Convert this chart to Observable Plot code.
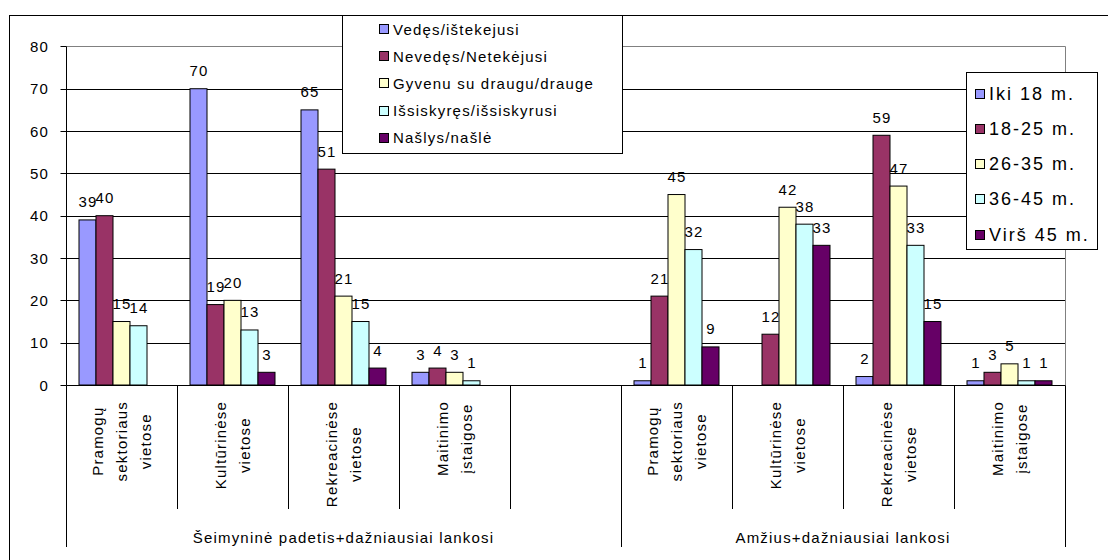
<!DOCTYPE html>
<html>
<head>
<meta charset="utf-8">
<script src="https://cdn.jsdelivr.net/npm/d3@7"></script>
<script src="https://cdn.jsdelivr.net/npm/@observablehq/plot@0.6"></script>
<style>
  body { margin: 0; background: #fff; }
  #chart { position: relative; width: 1108px; height: 560px; overflow: hidden; }
</style>
</head>
<body>
<div id="chart"></div>
<script>
// Places visited most often (category labels, one line per "\n")
const places = ["Pramogų\nsektoriaus\nvietose", "Kultūrinėse\nvietose", "Rekreacinėse\nvietose", "Maitinimo\nįstaigose"];
const groupTitles = ["Šeimyninė padetis+dažniausiai lankosi", "Amžius+dažniausiai lankosi"];

// Left block: marital status
const familySeries = ["Vedęs/ištekejusi", "Nevedęs/Netekėjusi", "Gyvenu su draugu/drauge", "Išsiskyręs/išsiskyrusi", "Našlys/našlė"];
const familyValues = [
  [39, 70, 65, 3],
  [40, 19, 51, 4],
  [15, 20, 21, 3],
  [14, 13, 15, 1],
  [null, 3, 4, null]
];

// Right block: age groups
const ageSeries = ["Iki 18 m.", "18-25 m.", "26-35 m.", "36-45 m.", "Virš 45 m."];
const ageValues = [
  [1, null, 2, 1],
  [21, 12, 59, 3],
  [45, 42, 47, 5],
  [32, 38, 33, 1],
  [9, 33, 15, 1]
];

const seriesColors = ["#9999ff", "#993366", "#ffffcc", "#ccffff", "#660066"];
const yTicks = [0, 10, 20, 30, 40, 50, 60, 70, 80];

const FONT = "'Liberation Sans', Arial, sans-serif";

// Category slots: four places, an empty slot, four places
const slots = [...places.map((_, i) => "A" + i), "gap", ...places.map((_, i) => "B" + i)];
const slotLabel = new Map(places.flatMap((p, i) => [["A" + i, p], ["B" + i, p]]));

const rows = [];
[[familyValues, "A"], [ageValues, "B"]].forEach(([values, prefix]) => {
  values.forEach((vals, s) => vals.forEach((v, c) => {
    if (v != null) rows.push({slot: prefix + c, series: s, value: v});
  }));
});

const chart = Plot.plot({
  width: 1108,
  height: 560,
  marginLeft: 63,
  marginRight: 41,
  marginTop: 46.4,
  marginBottom: 175,
  style: {fontFamily: FONT, fontSize: "15px", color: "black", background: "none", letterSpacing: "1.2px"},
  fx: {domain: slots, padding: 0, axis: null},
  x: {domain: d3.range(5), paddingInner: 0, paddingOuter: 0.75, axis: null},
  y: {domain: [0, 80], axis: null},
  color: {type: "ordinal", domain: d3.range(5), range: seriesColors},
  marks: [
    Plot.barY(rows, {fx: "slot", x: "series", y: "value", fill: "series", stroke: "black", strokeWidth: 1}),
    Plot.text(rows, {fx: "slot", x: "series", y: "value", text: d => String(d.value), dy: -13, lineAnchor: "bottom", fill: "black"})
  ]
});

document.getElementById("chart").appendChild(chart);

const svg = d3.select(chart);
const fx = chart.scale("fx");
const y = chart.scale("y");
const crisp = v => Math.round(v) + 0.5;
const left = fx.apply(slots[0]);
const right = fx.apply(slots[slots.length - 1]) + fx.bandwidth;
const yTop = y.apply(80), yBottom = y.apply(0);

// Layer beneath the bars: outer border and gridlines
const under = svg.insert("g", "g");
under.append("rect")
  .attr("x", 9.5).attr("y", 15.5).attr("width", 1200).attr("height", 600)
  .attr("fill", "white").attr("stroke", "black");
under.selectAll("line.grid").data(yTicks.slice(1, -1)).join("line")
  .attr("x1", crisp(left)).attr("x2", crisp(right))
  .attr("y1", d => crisp(y.apply(d))).attr("y2", d => crisp(y.apply(d)))
  .attr("stroke", "black");

const deco = svg.append("g");

// Plot-area border (grey) on top and right
deco.append("path")
  .attr("d", `M${crisp(left)},${crisp(yTop)}H${crisp(right)}V${crisp(yBottom)}`)
  .attr("fill", "none").attr("stroke", "#808080");

// Value and category axis lines
deco.append("path")
  .attr("d", `M${crisp(left)},${crisp(yTop)}V${crisp(yBottom)}H${crisp(right)}`)
  .attr("fill", "none").attr("stroke", "black");

// y ticks and their labels
deco.selectAll("line.ytick").data(yTicks).join("line")
  .attr("x1", crisp(left) - 6).attr("x2", crisp(left))
  .attr("y1", d => crisp(y.apply(d))).attr("y2", d => crisp(y.apply(d)))
  .attr("stroke", "black");
deco.selectAll("text.ylab").data(yTicks).join("text")
  .attr("x", left - 17)
  .attr("y", d => y.apply(d))
  .attr("text-anchor", "end")
  .attr("dominant-baseline", "central")
  .attr("fill", "black")
  .text(d => d);

// Category separators; group boundaries reach further down
const bounds = slots.map(s => fx.apply(s)).concat([right]);
const groupEdges = new Set([0, 5, slots.length]);
deco.selectAll("line.sep").data(bounds).join("line")
  .attr("x1", d => crisp(d)).attr("x2", d => crisp(d))
  .attr("y1", crisp(yBottom))
  .attr("y2", (d, i) => groupEdges.has(i) ? 547 : 509)
  .attr("stroke", "black");

// Rotated category labels, lines centred on the longest one
const catG = deco.append("g").attr("fill", "black");
slots.forEach(s => {
  if (!slotLabel.has(s)) return;
  const lines = slotLabel.get(s).split("\n");
  const cx = fx.apply(s) + fx.bandwidth / 2;
  const texts = lines.map(line => catG.append("text")
    .attr("text-anchor", "middle")
    .attr("dominant-baseline", "central")
    .text(line));
  const longest = d3.max(texts, t => t.node().getComputedTextLength());
  const cy = yBottom + 16 + longest / 2;
  texts.forEach((t, j) => {
    const lx = cx + (j - (lines.length - 1) / 2) * 24;
    t.attr("transform", `translate(${lx},${cy}) rotate(-90)`);
  });
});

// Group titles under the categories
const groupSpans = [[bounds[0], bounds[5]], [bounds[5], bounds[slots.length]]];
deco.selectAll("text.group").data(groupTitles).join("text")
  .attr("x", (d, i) => (groupSpans[i][0] + groupSpans[i][1]) / 2)
  .attr("y", 543)
  .attr("text-anchor", "middle")
  .attr("fill", "black")
  .text(d => d);

// Legends
function legend(names, box, opts) {
  const g = svg.append("g");
  g.append("rect")
    .attr("x", box.x + 0.5).attr("y", box.y + 0.5).attr("width", box.w).attr("height", box.h)
    .attr("fill", "white").attr("stroke", "black");
  names.forEach((name, i) => {
    const cy = box.y + opts.first + i * opts.step;
    g.append("rect")
      .attr("x", box.x + opts.swatchX + 0.5).attr("y", Math.round(cy - 5) + 0.5)
      .attr("width", 9).attr("height", 9)
      .attr("fill", seriesColors[i]).attr("stroke", "black");
    g.append("text")
      .attr("x", box.x + opts.textX).attr("y", cy)
      .attr("text-anchor", "start")
      .attr("dominant-baseline", "central")
      .attr("font-size", opts.fontSize)
      .attr("letter-spacing", opts.spacing)
      .attr("fill", "black")
      .text(name);
  });
}
legend(familySeries, {x: 342, y: 15, w: 280, h: 138}, {first: 14, step: 27.2, swatchX: 37, textX: 51, fontSize: 15, spacing: "1.2px"});
legend(ageSeries, {x: 966, y: 72, w: 131, h: 177}, {first: 21.5, step: 35.3, swatchX: 9, textX: 23, fontSize: 18, spacing: "2px"});
</script>
</body>
</html>
